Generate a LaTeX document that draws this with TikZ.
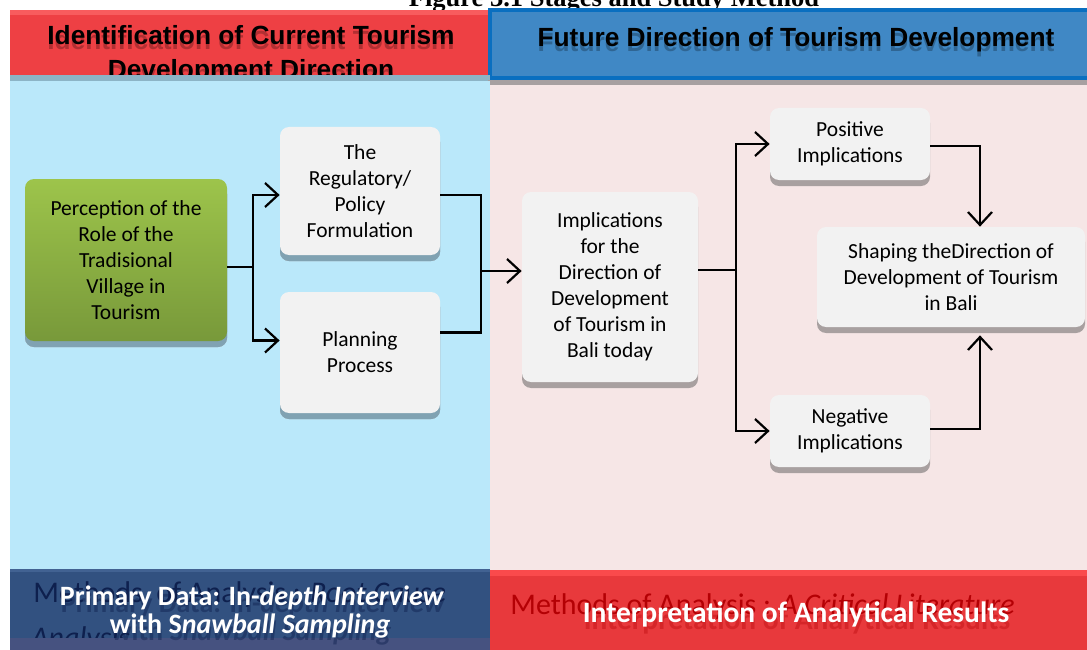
\documentclass[tikz,border=0pt]{standalone}
\usepackage{fontspec}
\setmainfont{Carlito}
\newfontfamily\headfont{Liberation Sans}
\newfontfamily\capfont{Liberation Serif}
\usetikzlibrary{arrows.meta,calc}

\definecolor{hdred}{RGB}{238,64,68}
\definecolor{hdredlt}{RGB}{248,92,94}
\definecolor{hdblue}{RGB}{64,136,197}
\definecolor{hdbord}{RGB}{10,111,192}
\definecolor{stripblue}{RGB}{140,180,198}
\definecolor{stripgrey}{RGB}{167,160,161}
\definecolor{bgblue}{RGB}{186,232,250}
\definecolor{bgpink}{RGB}{246,230,230}
\definecolor{botblue}{RGB}{50,81,128}
\definecolor{botbluelt}{RGB}{66,98,146}
\definecolor{botbluedk}{RGB}{70,82,128}
\definecolor{botred}{RGB}{232,57,60}
\definecolor{botredlt}{RGB}{250,74,76}
\definecolor{ghostblue}{RGB}{14,32,78}
\definecolor{ghostred}{RGB}{180,0,4}
\definecolor{boxgrey}{RGB}{242,242,242}
\definecolor{shleft}{RGB}{128,162,178}
\definecolor{shright}{RGB}{168,160,160}
\definecolor{greentop}{RGB}{157,196,75}
\definecolor{greenbot}{RGB}{120,153,58}

\tikzset{every picture/.style={line width=0.75pt}}
\tikzset{
  box/.style={fill=boxgrey, rounded corners=9pt, inner sep=0pt, align=center,
    font=\fontsize{21.5}{26}\selectfont, preaction={fill=shright, transform canvas={yshift=-6pt}}},
  boxl/.style={box, preaction={fill=shleft, transform canvas={yshift=-6pt}}},
  greenbox/.style={boxl, fill=none, top color=greentop, bottom color=greenbot},
  headtext/.style={font=\headfont\bfseries\fontsize{26.3}{30}\selectfont, inner sep=0pt, anchor=base},
  bottext/.style={font=\bfseries\fontsize{28}{30}\selectfont, inner sep=0pt, anchor=base},
  ghosttext/.style={font=\fontsize{30}{33}\selectfont, inner sep=0pt, anchor=base west},
  conn/.style={line width=2.2pt},
  arr/.style={conn, -{Straight Barb[length=13pt,width=24pt,line width=2.2pt]}}
}

\begin{document}
\begin{tikzpicture}[x=1pt,y=1pt,yscale=-1,xscale=1]
\useasboundingbox (0,0) rectangle (1087,650);

% Caption
\node (cap) [anchor=base, inner sep=0pt, font=\capfont\bfseries\fontsize{26.5}{28}\selectfont] at (614,7) {Figure 3.1 Stages and Study Method};

% Headers
\fill[hdred] (10,10) rectangle (488,75);
\fill[hdredlt] (10,10) rectangle (488,15);
\node (hdLsh) [headtext, opacity=0.25] at (251,50) {Identification of Current Tourism};
\node (hdL) [headtext] at (251,45) {Identification of Current Tourism};
\node (hdL2sh) [headtext, opacity=0.25] at (251,84) {Development Direction};
\node (hdL2) [headtext] at (251,79) {Development Direction};
\fill[hdblue] (488,8) rectangle (1087,80);
\draw[hdbord, line width=4pt] (490,10) rectangle (1092,78);
\node (hdRsh) [headtext, opacity=0.25] at (796,52) {Future Direction of Tourism Development};
\node (hdR) [headtext] at (796,47) {Future Direction of Tourism Development};
\fill[stripblue] (10,75) rectangle (490,81);
\fill[stripgrey] (488,80) rectangle (1087,85);

% Panels
\fill[bgblue] (10,81) rectangle (490,570);
\fill[bgpink] (490,85) rectangle (1087,570);

% Bottom bars
\fill[botblue] (10,569) rectangle (490,650);
\fill[botbluelt] (10,569) rectangle (490,572);
\fill[botred] (490,570) rectangle (1087,650);
\fill[botredlt] (490,570) rectangle (1087,576);

% Text Node
\node (mthL) [ghosttext, text=ghostblue] at (33,602) {Methods~~of Analysis : \textit{Root Cause}};
\node (mthL2) [ghosttext, text=ghostblue] at (31,647) {\textit{Analysis}};
\fill[botbluedk] (10,638) rectangle (490,650);
\node (primsh) [bottext, text=ghostblue, opacity=0.45] at (253,612) {Primary Data: In-\textit{depth Interview}};
\node (prim) [bottext, text=white] at (252,605) {Primary Data: In-\textit{depth Interview}};
\node (prim2sh) [bottext, text=ghostblue, opacity=0.45] at (251,640) {with S\textit{nawball Sampling}};
\node (prim2) [bottext, text=white] at (250,633) {with S\textit{nawball Sampling}};
\node (mthR) [ghosttext, text=ghostred] at (510,614) {Methods of Analysis : \textit{A Critical Literature}};
\node (intsh) [bottext, text=ghostred, opacity=0.35, font=\bfseries\fontsize{29.5}{30}\selectfont] at (797,629) {Interpretation of Analytical Results};
\node (intp) [bottext, text=white, font=\bfseries\fontsize{29.5}{30}\selectfont] at (796,622) {Interpretation of Analytical Results};

% Boxes
\node (perc) [greenbox, minimum width=202pt, minimum height=162pt] at (126,260) {Perception of the\\Role of the\\Tradisional\\Village in\\Tourism};
\node (reg) [boxl, minimum width=160pt, minimum height=128pt] at (360,191) {The\\Regulatory/\\Policy\\Formulation};
\node (plan) [boxl, minimum width=160pt, minimum height=121pt] at (360,352.5) {Planning\\Process};
\node (imp) [box, minimum width=176pt, minimum height=190pt] at (610,287) {Implications\\for the\\Direction of\\Development\\of Tourism in\\Bali today};
\node (pos) [box, minimum width=160pt, minimum height=72pt] at (850,144) {Positive\\Implications};
\node (shap) [box, minimum width=268pt, minimum height=100pt] at (951,277) {Shaping theDirection of\\Development of Tourism\\in Bali};
\node (neg) [box, minimum width=160pt, minimum height=72pt] at (850,431) {Negative\\Implications};

% Connectors
\coordinate (j1) at (253,267);
\coordinate (j2) at (481,271);
\coordinate (j3) at (736,270);
\draw[conn] ($(perc.east)+(0,7)$) -- (j1);
\draw[arr] (j1) |- ($(reg.west)+(0,4)$);
\draw[arr] (j1) |- ($(plan.west)+(0,-12)$);
\draw[conn] ($(reg.east)+(0,4)$) -| (j2);
\draw[conn] ($(plan.east)+(0,-20)$) -| (j2);
\draw[arr] (j2) -- ($(imp.west)+(0,-16)$);
\draw[conn] ($(imp.east)+(0,-17)$) -- (j3);
\draw[arr] (j3) |- (pos.west);
\draw[arr] (j3) |- (neg.west);
\draw[arr] ($(pos.east)+(0,2)$) -| ($(shap.north)+(29,0)$);
\draw[arr] ($(neg.east)+(0,-2)$) -| ($(shap.south)+(29,8)$);

\end{tikzpicture}
\end{document}
